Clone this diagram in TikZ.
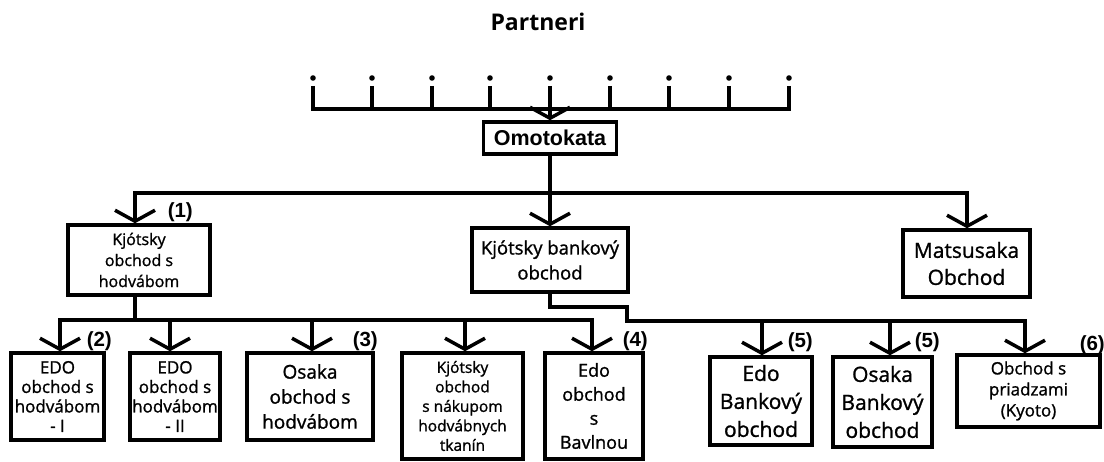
\documentclass[tikz,border=0pt]{standalone}
\usepackage{fontspec}
\setmainfont{Open Sans}[FakeBold=1.2]
\newfontfamily\ttl{Open Sans}
\newfontfamily\lab{Liberation Sans}
\usetikzlibrary{arrows.meta}
\begin{document}
\begin{tikzpicture}[x=1pt,y=-1pt,line width=3.5pt,
  box/.style={draw,line width=3.5pt,inner sep=0pt,align=center},
  arr/.style={-{Straight Barb[length=11pt,width=40pt]},line width=3.5pt},
  bar/.style={line width=3.5pt,line cap=rect},
  num/.style={font=\lab\bfseries\fontsize{20.5}{20.5}\selectfont,inner sep=0pt}]
\useasboundingbox (0,0) rectangle (1104,462);
% title
\node[font=\ttl\bfseries\fontsize{23}{23}\selectfont] (title) at (538,22) {Partneri};
% partner ticks
\foreach \x [count=\i] in {313,372,432,490,550,610,669,729,789}{
  \coordinate (t\i) at (\x,109);
  \fill (\x,78) circle (2.8pt);
  \draw[line width=3.4pt] (\x,86) -- (t\i);
}
\draw[bar] (t1) -- (t9);
% Omotokata
\node[box,minimum width=133pt,minimum height=32pt,font=\lab\bfseries\fontsize{21.5}{21.5}\selectfont] (omo) at (550,138) {Omotokata};
\draw[arr] (t5) -- (omo.north);
% level 1
\node[box,minimum width=142pt,minimum height=70pt,font=\fontsize{16}{21}\selectfont] (k1) at (139,260) {Kjótsky\\obchod s\\hodvábom};
\node[box,minimum width=156pt,minimum height=64pt,font=\fontsize{18.5}{25}\selectfont] (kb) at (550,260) {Kjótsky bankový\\obchod};
\node[box,minimum width=127pt,minimum height=67pt,font=\fontsize{21}{27}\selectfont] (mat) at (966.5,263.5) {Matsusaka\\Obchod};
\coordinate (L1l) at (135,193);
\coordinate (L1r) at (967,193);
\draw[bar] (omo.south) -- (omo.south |- L1l);
\draw[bar] (L1l) -- (L1r);
\draw[arr] (L1l) -- (k1.north -| L1l);
\draw[arr] (omo.south |- L1l) -- (kb.north);
\draw[arr] (L1r) -- (mat.north -| L1r);
\node[num,anchor=west] (n1) at (166,212) {(1)};
% level 2
\node[box,minimum width=93pt,minimum height=87pt,font=\fontsize{17}{19.5}\selectfont] (b1) at (57.5,396.5) {EDO\\obchod s\\hodvábom\\- I};
\node[box,minimum width=90pt,minimum height=87pt,font=\fontsize{17}{19.5}\selectfont] (b2) at (175,396.5) {EDO\\obchod s\\hodvábom\\- II};
\node[box,minimum width=126pt,minimum height=87pt,font=\fontsize{19}{25}\selectfont] (b3) at (310,396.5) {Osaka\\obchod s\\hodvábom};
\node[box,minimum width=121pt,minimum height=106pt,font=\fontsize{15.5}{19.5}\selectfont] (b4) at (462.5,406) {Kjótsky\\obchod\\s nákupom\\hodvábnych\\tkanín};
\node[box,minimum width=98pt,minimum height=106pt,font=\fontsize{18}{24}\selectfont] (b5) at (594,406) {Edo\\obchod\\s\\Bavlnou};
\node[box,minimum width=102pt,minimum height=88pt,font=\fontsize{21}{28}\selectfont] (b6) at (761,401) {Edo\\Bankový\\obchod};
\node[box,minimum width=99pt,minimum height=90pt,font=\fontsize{21}{28}\selectfont] (b7) at (882.5,402) {Osaka\\Bankový\\obchod};
\node[box,minimum width=143pt,minimum height=72pt,font=\fontsize{17}{21}\selectfont] (b8) at (1028.5,391) {Obchod s\\priadzami\\(Kyoto)};
% left group connectors
\coordinate (L2a) at (60,320);
\coordinate (L2b) at (592,320);
\draw[bar] (k1.south -| L1l) -- (L1l |- L2a);
\draw[bar] (L2a) -- (L2b);
\foreach \x/\n in {60/b1,170/b2,312/b3,465/b4,592/b5}
  \draw[arr] (\x,320) -- (\n.north -| \x,0);
% bank group connectors
\coordinate (J) at (627,307);
\coordinate (L3r) at (1025,321);
\draw[bar] (kb.south) |- (J) |- (L3r);
\foreach \x/\n in {762/b6,890/b7,1025/b8}
  \draw[arr] (\x,321) -- (\n.north -| \x,0);
% numbers
\node[num,anchor=west] (n2) at (85,341) {(2)};
\node[num,anchor=west] (n3) at (351,341) {(3)};
\node[num,anchor=west] (n4) at (621,341) {(4)};
\node[num,anchor=west] (n5) at (786,342) {(5)};
\node[num,anchor=west] (n6) at (913,342) {(5)};
\node[num,anchor=west] (n7) at (1078,345) {(6)};
\end{tikzpicture}
\end{document}
